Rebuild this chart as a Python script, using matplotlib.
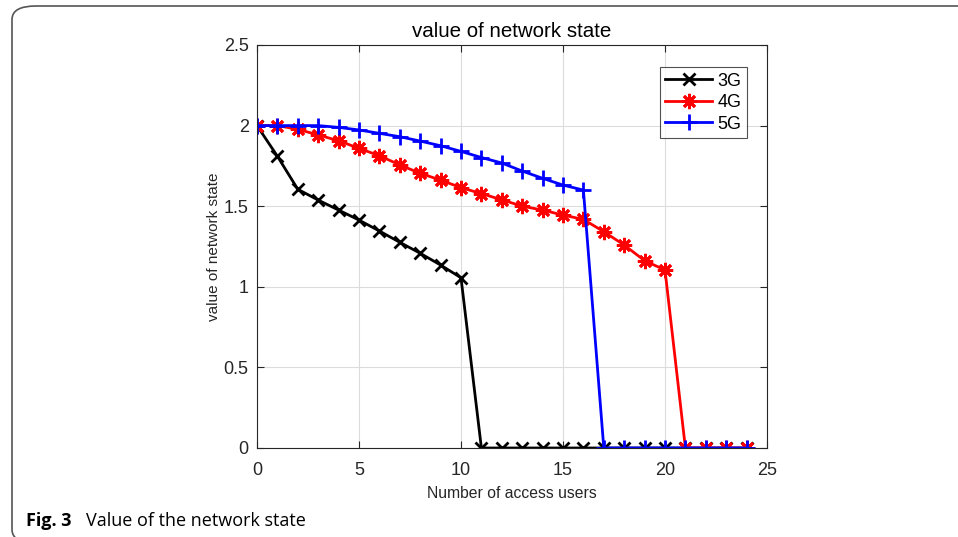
import numpy as np
import matplotlib
matplotlib.use("Agg")
import matplotlib.pyplot as plt
from matplotlib.patches import FancyBboxPatch

users = np.arange(0, 25)
val_3g = [2.0, 1.81, 1.605, 1.538, 1.476, 1.414, 1.346, 1.276, 1.208, 1.135, 1.056,
          0, 0, 0, 0, 0, 0, 0, 0, 0, 0, 0, 0, 0, 0]
val_4g = [2.0, 2.0, 1.977, 1.942, 1.906, 1.859, 1.813, 1.756, 1.704, 1.662, 1.615,
          1.578, 1.54, 1.50, 1.476, 1.445, 1.418, 1.342, 1.259, 1.162, 1.104,
          0, 0, 0, 0]
val_5g = [2.0, 2.0, 2.0, 2.0, 1.989, 1.973, 1.952, 1.931, 1.904, 1.875, 1.84,
          1.802, 1.768, 1.718, 1.673, 1.631, 1.60,
          0, 0, 0, 0, 0, 0, 0, 0]
xticks = [0, 5, 10, 15, 20, 25]
yticks = [0, 0.5, 1, 1.5, 2, 2.5]
ytick_labels = ["0", "0.5", "1", "1.5", "2", "2.5"]

plt.rcParams["font.family"] = ["Liberation Sans", "DejaVu Sans"]
AX_C = "#262626"
W, H = 958, 537

fig = plt.figure(figsize=(W / 100, H / 100), dpi=100)
ax = fig.add_axes([257 / W, 1 - 448 / H, 510 / W, 403 / H])

ax.plot(users, val_3g, color="black", lw=2, marker="x", ms=8, mew=2, label="3G")
ax.plot(users, val_4g, color="red", lw=2, marker=(8, 2, 0), ms=11, mew=2, label="4G")
ax.plot(users, val_5g, color="blue", lw=2, marker="+", ms=11, mew=2, label="5G")

ax.set_xlim(0, 25); ax.set_ylim(0, 2.5)
ax.set_xticks(xticks); ax.set_yticks(yticks)
ax.set_yticklabels(ytick_labels)
ax.grid(color="#dcdcdc", lw=0.8)
ax.set_axisbelow(True)
for s in ax.spines.values():
    s.set_color(AX_C); s.set_linewidth(0.8)
ax.tick_params(direction="in", top=True, right=True, length=5, width=0.8,
               colors=AX_C, labelsize=13)
ax.tick_params(axis="x", pad=10)
ax.tick_params(axis="y", pad=6)
ax.set_title("value of network state", fontsize=14.8, color="black", pad=6)
ax.set_xlabel("Number of access users", fontsize=11.3, color=AX_C, labelpad=5)
ax.set_ylabel("value of network state", fontsize=11, color=AX_C, labelpad=2)

leg = ax.legend(loc="upper right", bbox_to_anchor=(0.961, 0.945), borderaxespad=0,
                fontsize=13, frameon=True, fancybox=False, edgecolor=AX_C,
                handlelength=2.6, borderpad=0.3, labelspacing=0.25, handletextpad=0.3)
leg.get_frame().set_linewidth(0.8)

# rounded frame of the figure panel (right and bottom edges run off the image)
fig.patches.append(FancyBboxPatch((12 / W, -6 / H), 1.2, 1.0,
                                  boxstyle="round,pad=0,rounding_size=0.025",
                                  transform=fig.transFigure, fill=False,
                                  edgecolor="#555555", lw=1.2))

fig.text(26 / W, 1 - 521 / H, "Fig. 3", fontsize=13, fontweight="bold",
         family=["Open Sans"], va="center", ha="left")
fig.text(86 / W, 1 - 521 / H, "Value of the network state", fontsize=13,
         family=["Open Sans"], va="center", ha="left")

fig.savefig("out.png", dpi=100, facecolor="white")
